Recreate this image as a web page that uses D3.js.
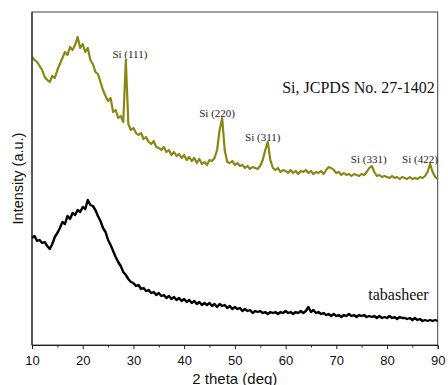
<!DOCTYPE html>
<html>
<head>
<meta charset="utf-8">
<script src="https://cdn.jsdelivr.net/npm/d3@7"></script>
<style>
  body { margin: 0; background: #fff; }
  svg { display: block; }
  .tick text { font-family: "Liberation Sans", Arial, sans-serif; }
</style>
</head>
<body>
<svg id="chart" width="448" height="385"></svg>
<script>
// 2 theta grid of the scan (deg)
const thetaStart = 10, thetaStep = 0.5, thetaEnd = 90;

// Si pattern (upper, olive), intensity a.u.
const siIntensity = [
  288, 285, 283, 279, 275, 268, 265, 263, 269, 267, // 10 - 14.5
  275, 281, 287, 293, 290, 298, 295, 300, 308, 297, // 15 - 19.5
  301, 293, 297, 285, 281, 273, 271, 263, 255, 249, // 20 - 24.5
  244, 247, 233, 235, 227, 229, 223, 285, 221, 215, // 25 - 29.5
  217, 212, 210, 212, 206, 208, 203, 201, 204, 198, // 30 - 34.5
  197, 195, 198, 193, 195, 190, 193, 189, 191, 187, // 35 - 39.5
  190, 185, 188, 184, 187, 182, 186, 181, 183, 180, // 40 - 44.5
  185, 184, 187, 195, 215, 227, 195, 183, 182, 184, // 45 - 49.5
  180, 182, 179, 180, 177, 179, 176, 178, 177, 176, // 50 - 54.5
  179, 185, 195, 203, 185, 177, 175, 177, 173, 175, // 55 - 59.5
  174, 172, 175, 172, 174, 171, 174, 173, 175, 172, // 60 - 64.5
  174, 171, 173, 172, 174, 171, 175, 178, 177, 175, // 65 - 69.5
  172, 173, 170, 172, 170, 171, 169, 171, 170, 169, // 70 - 74.5
  171, 170, 173, 177, 179, 173, 169, 170, 168, 169, // 75 - 79.5
  168, 167, 169, 167, 168, 166, 168, 167, 166, 168, // 80 - 84.5
  166, 167, 166, 168, 167, 169, 173, 181, 173, 168, // 85 - 89.5
  166                                               // 90
];

// tabasheer pattern (lower, black), intensity a.u.
const tabIntensity = [
  107, 109, 104, 105, 102, 103, 99, 96, 101, 108,
  112, 117, 123, 121, 129, 126, 132, 130, 135, 133,
  138, 136, 145, 140, 139, 135, 129, 124, 117, 113,
  105, 100, 94, 88, 83, 79, 73, 70, 66, 63,
  62, 59, 60, 56, 57, 54, 55, 52, 53, 50,
  52, 49, 50, 47, 49, 46, 48, 45, 47, 44,
  46, 43, 45, 42, 44, 41, 43, 40, 42, 40,
  42, 39, 41, 38, 41, 39, 40, 37, 39, 36,
  38, 36, 37, 34, 36, 34, 35, 32, 34, 33,
  34, 32, 33, 31, 33, 32, 33, 31, 33, 32,
  34, 32, 33, 31, 33, 32, 34, 32, 34, 38,
  33, 35, 32, 33, 31, 32, 30, 31, 29, 31,
  29, 30, 28, 30, 29, 31, 29, 30, 28, 30,
  29, 30, 28, 29, 28, 29, 27, 29, 27, 28,
  27, 29, 27, 28, 26, 28, 27, 27, 26, 27,
  25, 27, 25, 26, 24, 25, 24, 25, 24, 25,
  24
];

const xTicks = [10, 20, 30, 40, 50, 60, 70, 80, 90];
const xMinorTicks = [15, 25, 35, 45, 55, 65, 75, 85];

const peakLabels = ["Si (111)", "Si (220)", "Si (311)", "Si (331)", "Si (422)"];
const peakLabelTheta = [29.3, 46.5, 55.5, 76.4, 86.5];
const peakLabelLevel = [287, 228.5, 204.5, 182, 182];

const svg = d3.select("#chart"),
  margin = { top: 12, right: 10.3, bottom: 40, left: 32 },
  width = +svg.attr("width") - margin.left - margin.right,
  height = +svg.attr("height") - margin.top - margin.bottom;

const chart = svg
  .append("g")
  .attr("transform", `translate(${margin.left},${margin.top})`);

const theta = d3.range(thetaStart, thetaEnd + thetaStep / 2, thetaStep);

const x = d3.scaleLinear().domain([thetaStart, thetaEnd]).range([0, width]);
const y = d3.scaleLinear().domain([0, height]).range([height, 0]);

// frame
chart
  .append("rect")
  .attr("width", width)
  .attr("height", height)
  .attr("fill", "none")
  .attr("stroke", "#444")
  .attr("stroke-width", 1);

const line = d3
  .line()
  .x((d, i) => x(theta[i]))
  .y((d) => y(d));

chart
  .append("path")
  .datum(siIntensity)
  .attr("fill", "none")
  .attr("stroke", "#878712")
  .attr("stroke-width", 2.2)
  .attr("stroke-linejoin", "round")
  .attr("d", line);

chart
  .append("path")
  .datum(tabIntensity)
  .attr("fill", "none")
  .attr("stroke", "#000")
  .attr("stroke-width", 2.4)
  .attr("stroke-linejoin", "round")
  .attr("d", line);

// x axis
const xAxis = chart
  .append("g")
  .attr("transform", `translate(0,${height})`)
  .call(d3.axisBottom(x).tickValues(xTicks).tickSize(4).tickPadding(7).tickFormat(d3.format("d")));
xAxis.select(".domain").attr("stroke", "#222");
xAxis.selectAll(".tick line").attr("stroke", "#222");
xAxis.selectAll(".tick text").attr("font-size", 13).attr("fill", "#111");

chart
  .append("g")
  .attr("transform", `translate(0,${height})`)
  .call(d3.axisBottom(x).tickValues(xMinorTicks).tickSize(2.5).tickFormat(""))
  .call((g) => g.select(".domain").remove())
  .selectAll(".tick line")
  .attr("stroke", "#222");

// left axis line
chart
  .append("line")
  .attr("x1", 0)
  .attr("x2", 0)
  .attr("y1", 0)
  .attr("y2", height)
  .attr("stroke", "#111");

chart
  .append("text")
  .attr("text-anchor", "middle")
  .attr("x", width / 2)
  .attr("y", height + 38.5)
  .attr("font-family", "Liberation Sans, Arial, sans-serif")
  .attr("font-size", 15)
  .attr("fill", "#111")
  .text("2 theta (deg)");

chart
  .append("text")
  .attr("text-anchor", "middle")
  .attr("transform", "rotate(-90)")
  .attr("x", -height / 2)
  .attr("y", -9)
  .attr("font-family", "Liberation Sans, Arial, sans-serif")
  .attr("font-size", 14.5)
  .attr("fill", "#111")
  .text("Intensity (a.u.)");

// peak labels
chart
  .selectAll("text.peak")
  .data(peakLabels)
  .join("text")
  .attr("class", "peak")
  .attr("text-anchor", "middle")
  .attr("x", (d, i) => x(peakLabelTheta[i]))
  .attr("y", (d, i) => y(peakLabelLevel[i]))
  .attr("font-family", "Liberation Serif, Times New Roman, serif")
  .attr("font-size", 11)
  .attr("fill", "#222")
  .text((d) => d);

chart
  .append("text")
  .attr("text-anchor", "end")
  .attr("x", width - 3)
  .attr("y", 80.5)
  .attr("font-family", "Liberation Serif, Times New Roman, serif")
  .attr("font-size", 16)
  .attr("fill", "#111")
  .text("Si, JCPDS No. 27-1402");

chart
  .append("text")
  .attr("text-anchor", "end")
  .attr("x", width - 9)
  .attr("y", 287.5)
  .attr("font-family", "Liberation Serif, Times New Roman, serif")
  .attr("font-size", 16)
  .attr("fill", "#111")
  .text("tabasheer");
</script>
</body>
</html>
